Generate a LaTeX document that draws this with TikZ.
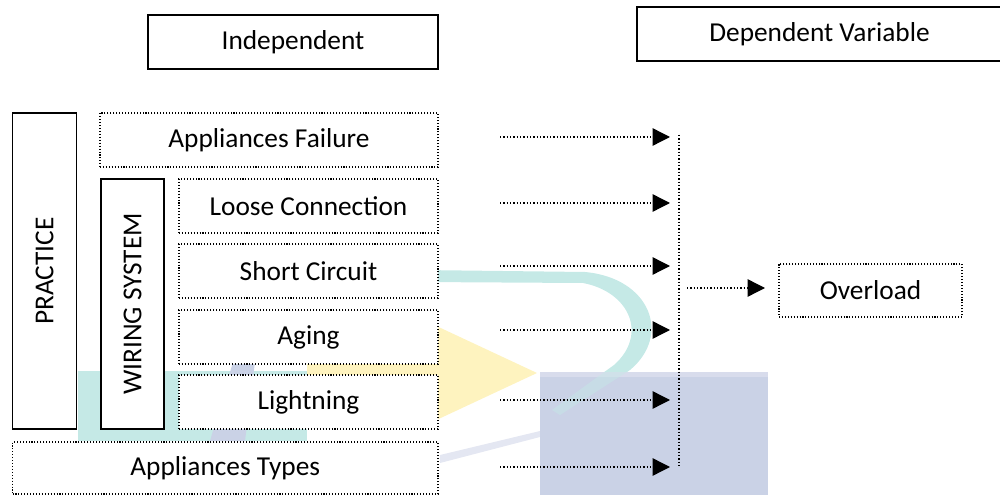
\documentclass[tikz,border=0pt]{standalone}
\usepackage{fontspec}
\setmainfont{Carlito}
\usetikzlibrary{arrows.meta}
\definecolor{wmteal}{HTML}{C5E9E6}
\definecolor{wmyellow}{HTML}{FEF3BF}
\definecolor{wmblue}{HTML}{CAD2E6}
\definecolor{wmbluelight}{HTML}{D8DCEC}
\definecolor{wmbluefaint}{HTML}{E4E7F2}
\newcommand\wmarcpath{(420,270) -- (585,272) .. controls (650,278) and (672,335) .. (630,370) -- (560,415) -- (552,410) -- (614,365) .. controls (648,335) and (630,292) .. (583,283) -- (420,282) -- cycle}
\begin{document}
\begin{tikzpicture}[x=0.75pt,y=-0.75pt,
  every node/.style={font=\fontsize{20.5}{24}\selectfont, inner sep=0pt},
  solidbox/.style={draw, line width=1.4pt, fill=white},
  dotbox/.style={draw, line width=0.8pt, dash pattern=on 0.8pt off 1.4pt, fill=white},
  dotline/.style={line width=1pt, dash pattern=on 1pt off 1.5pt},
  dotarrow/.style={dotline, -{Triangle[length=13pt,width=13pt]}}]
\useasboundingbox (0,0) rectangle (1000,495);
% faint watermark
\fill[wmteal] (78,371) rectangle (307,441);
\fill[wmyellow] (307,355) -- (430,323) -- (537,373) -- (430,423) -- (307,427) -- cycle;
\fill[wmblue] (233,362) -- (255,362) -- (245,441) -- (210,441) -- cycle;
\fill[wmbluefaint] (440,455) -- (540,431) -- (540,437) -- (440,463) -- cycle;
\fill[wmteal] \wmarcpath;
\fill[wmblue] (540,372) rectangle (768,500);
\fill[wmbluelight] (540,372) rectangle (768,377);
\begin{scope}
  \clip (540,372) rectangle (768,500);
  \fill[wmteal, opacity=0.45] \wmarcpath;
\end{scope}
% header boxes
\node[solidbox, minimum width=217.5pt, minimum height=40.5pt] (indep) at (293,42) {Independent};
\node[solidbox, minimum width=273.75pt, minimum height=40.5pt] (dep) at (819.5,34) {Dependent Variable};
% left column
\node[solidbox, rotate=90, minimum width=237pt, minimum height=48pt] (practice) at (44.5,271) {PRACTICE};
\node[dotbox, minimum width=253.5pt, minimum height=40.5pt] (af) at (269,140) {Appliances Failure};
\node[solidbox, rotate=90, minimum width=187.5pt, minimum height=47.25pt] (wiring) at (132.5,304) {WIRING SYSTEM};
\node[dotbox, minimum width=194.25pt, minimum height=40.5pt] (loose) at (308.5,206) {Loose Connection};
\node[dotbox, minimum width=194.25pt, minimum height=40.5pt] (short) at (308.5,271) {Short Circuit};
\node[dotbox, minimum width=194.25pt, minimum height=40.5pt] (aging) at (308.5,337) {Aging};
\node[dotbox, minimum width=194.25pt, minimum height=40.5pt] (light) at (308.5,402) {Lightning};
\node[dotbox, minimum width=319.1pt, minimum height=39pt] (types) at (225.25,468) {Appliances Types};
\node[dotbox, minimum width=137.25pt, minimum height=39.75pt] (ovl) at (870.5,290.5) {Overload};
% connector coordinates
\coordinate (s1) at (500,137); \coordinate (e1) at (670,137);
\coordinate (s2) at (500,203); \coordinate (e2) at (670,203);
\coordinate (s3) at (500,266); \coordinate (e3) at (670,266);
\coordinate (s4) at (500,330); \coordinate (e4) at (670,330);
\coordinate (s5) at (500,400); \coordinate (e5) at (670,400);
\coordinate (s6) at (500,467); \coordinate (e6) at (670,467);
\coordinate (vt) at (679,135); \coordinate (vb) at (679,467);
\coordinate (os) at (687,288); \coordinate (oe) at (765,288);
\foreach \i in {1,...,6} {\draw[dotarrow] (s\i) -- (e\i);}
\draw[dotline] (vt) -- (vb);
\draw[dotarrow] (os) -- (oe);
\end{tikzpicture}
\end{document}
